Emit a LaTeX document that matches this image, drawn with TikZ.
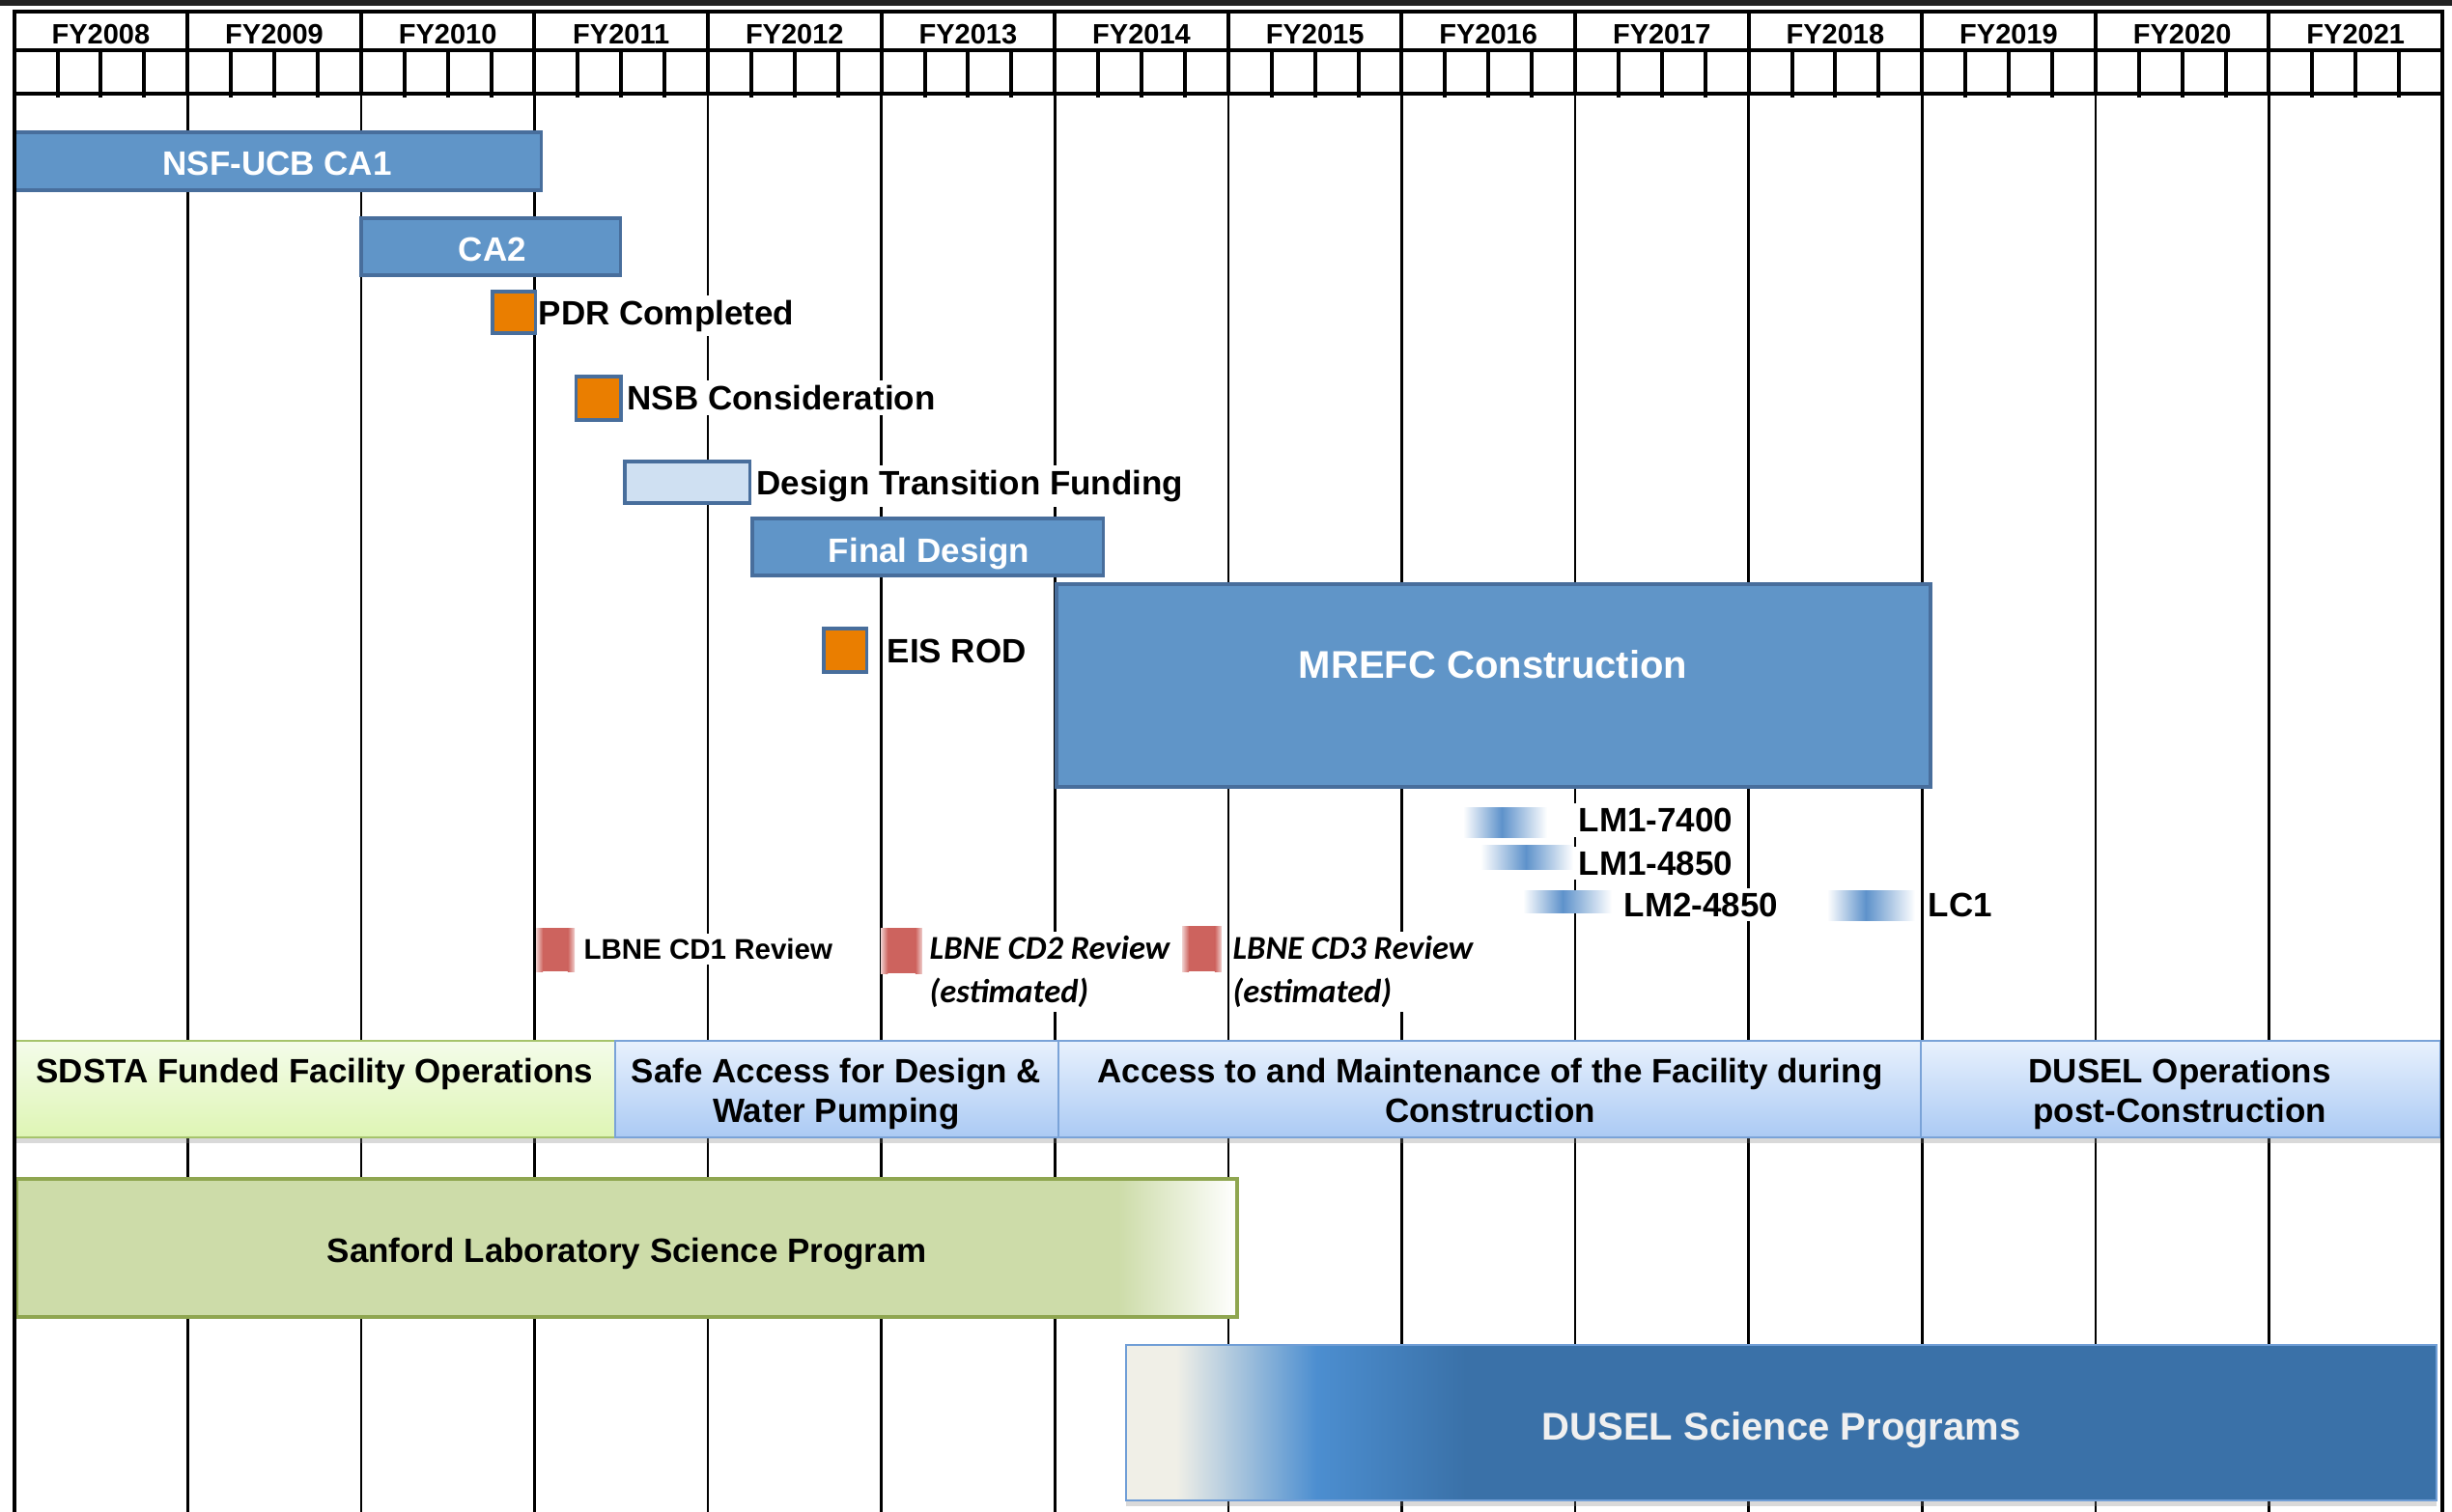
\documentclass[tikz,border=0pt]{standalone}
\usepackage{fontspec}
\setmainfont{Liberation Sans}
\newfontfamily\calibrifont{Carlito}
\usetikzlibrary{shadows}

\definecolor{topband}{RGB}{34,34,34}
\definecolor{barblue}{RGB}{96,149,200}
\definecolor{bardark}{RGB}{72,110,156}
\definecolor{mileorange}{RGB}{234,126,0}
\definecolor{dtfblue}{RGB}{207,224,242}
\definecolor{lbnered}{RGB}{205,99,94}
\definecolor{lmblue}{RGB}{94,146,203}
\definecolor{sdstatop}{RGB}{244,252,234}
\definecolor{sdstabot}{RGB}{222,245,180}
\definecolor{sdstaline}{RGB}{166,196,108}
\definecolor{lanetop}{RGB}{232,241,253}
\definecolor{lanebot}{RGB}{171,202,244}
\definecolor{laneline}{RGB}{122,163,216}
\definecolor{sanfordfill}{RGB}{205,220,169}
\definecolor{sanfordline}{RGB}{143,166,80}
\definecolor{scipale}{RGB}{240,239,231}
\definecolor{scimid}{RGB}{76,142,208}
\definecolor{scidark}{RGB}{58,113,168}
\definecolor{sciline}{RGB}{112,158,214}

\begin{document}
\begin{tikzpicture}[x=179.6pt, y=-1pt,
    thickline/.style={line width=4pt, line cap=rect},
    thinline/.style={line width=2.6pt},
    bar/.style={draw=bardark, fill=barblue, line width=3.5pt},
    milebox/.style={draw=bardark, fill=mileorange, line width=3.5pt},
    lab/.style={anchor=base west, fill=white, inner xsep=2pt, inner ysep=5pt,
        font=\fontsize{35}{41}\selectfont\bfseries},
    barlab/.style={anchor=base, text=white, font=\fontsize{35}{41}\selectfont\bfseries},
    biglab/.style={anchor=base, text=white, font=\fontsize{40}{48}\selectfont\bfseries},
    yearlab/.style={anchor=base, font=\fontsize{29}{35}\selectfont\bfseries},
    lbnelab/.style={anchor=base west, fill=white, inner xsep=1pt, inner ysep=4pt, align=left,
        font=\calibrifont\fontsize{34.5}{45}\selectfont\bfseries\itshape},
    lanelab/.style={anchor=north, align=center, inner sep=0pt,
        font=\fontsize{35}{41}\selectfont\bfseries},
    lane/.style={line width=2pt,
        drop shadow={shadow xshift=0pt, shadow yshift=-6pt, opacity=0.3}}]

    \useasboundingbox (-0.0813,0) rectangle (14.0557,1566);
    \fill[topband] (-0.0813,0) rectangle (14.0557,5.5);

    % year and quarter grid
    \foreach \k in {1,...,13} {
        \draw[thinline] (\k,97) -- (\k,1570);
        \draw[thickline] (\k,12) -- (\k,97);
    }
    \foreach \k in {0,...,13}
        \foreach \q in {0.25,0.5,0.75}
            \draw[thickline] (\k+\q,52) -- (\k+\q,99);
    \draw[thickline] (0,52) -- (14,52) (0,97) -- (14,97);
    \foreach \yr [count=\i from 0] in {2008,...,2021}
        \node[yearlab] (fy\yr) at (\i+0.5,45) {FY\yr};

    % labels beside the boxes
    \node[lab] (pdr) at (3.012,336) {PDR Completed};
    \node[lab] (nsb) at (3.524,424.5) {NSB Consideration};
    \node[lab] (dtf) at (4.27,512.5) {Design Transition Funding};
    \node[lab] (eis) at (5.022,686) {EIS ROD};
    \node[lab, inner xsep=8pt] (lm1a) at (8.975,861.5) {LM1-7400};
    \node[lab, inner xsep=8pt] (lm1b) at (8.975,906) {LM1-4850};
    \node[lab] (lm2) at (9.27,949) {LM2-4850};
    \node[lab] (lc1) at (11.024,949) {LC1};
    \node[lab, font=\fontsize{29.5}{35}\selectfont\bfseries] (cd1) at (3.273,993.5) {LBNE CD1 Review};
    \node[lbnelab] (cd2) at (5.272,1038.5) {LBNE CD2 Review\\(estimated)};
    \node[lbnelab] (cd3) at (7.02,1038.5) {LBNE CD3 Review\\(estimated)};

    % bars and milestones
    \draw[bar] (0,137) rectangle (3.04,197);
    \draw[bar] (2.0,226) rectangle (3.495,285);
    \draw[milebox] (2.757,302) rectangle (3.005,345);
    \draw[milebox] (3.241,390) rectangle (3.5,435);
    \draw[bar, fill=dtfblue] (3.52,478) rectangle (4.241,521);
    \draw[bar] (4.255,537) rectangle (6.279,596);
    \draw[bar] (6.009,605) rectangle (11.05,815);
    \draw[milebox] (4.667,651) rectangle (4.915,696);
    \node[barlab] (ca1) at (1.517,181) {NSF-UCB CA1};
    \node[barlab] (ca2) at (2.758,270) {CA2};
    \node[barlab] (final) at (5.275,582) {Final Design};
    \node[biglab] (mrefc) at (8.527,702) {MREFC Construction};

    % level milestones
    \foreach \a/\p/\b/\t/\u in {8.354/8.577/8.838/836/867, 8.455/8.716/8.989/875/900,
            8.699/8.928/9.212/922/945, 10.453/10.676/10.96/922/953} {
        \shade[left color=white, right color=lmblue] (\a,\t) rectangle (\p,\u);
        \shade[left color=lmblue, right color=white] (\p,\t) rectangle (\b,\u);
    }

    % LBNE reviews
    \foreach \a/\b/\t/\u in {3.009/3.232/961/1006, 4.997/5.236/961/1008, 6.734/6.962/959/1006} {
        \fill[lbnered] (\a+0.04,\t) rectangle (\b-0.04,\u);
        \shade[left color=lbnered!30!white, right color=lbnered] (\a,\t) rectangle (\a+0.04,\u);
        \shade[left color=lbnered, right color=lbnered!30!white] (\b-0.04,\t) rectangle (\b,\u);
    }

    % facility lanes
    \shadedraw[lane, draw=sdstaline, top color=sdstatop, bottom color=sdstabot]
        (0,1078) rectangle (3.465,1178);
    \shadedraw[lane, draw=laneline, top color=lanetop, bottom color=lanebot]
        (3.465,1078) rectangle (6.021,1178);
    \shadedraw[lane, draw=laneline, top color=lanetop, bottom color=lanebot]
        (6.021,1078) rectangle (10.994,1178);
    \shadedraw[lane, draw=laneline, top color=lanetop, bottom color=lanebot]
        (10.994,1078) rectangle (13.99,1178);
    \node[lanelab] (sdsta) at (1.733,1096) {SDSTA Funded Facility Operations};
    \node[lanelab] (safe) at (4.74,1096) {Safe Access for Design \&\\Water Pumping};
    \node[lanelab] (access) at (8.51,1096) {Access to and Maintenance of the Facility during\\Construction};
    \node[lanelab] (ops) at (12.486,1096) {DUSEL Operations\\post-Construction};

    % science programs
    \fill[sanfordfill] (0.013,1221) rectangle (6.367,1364);
    \shade[left color=sanfordfill, right color=white] (6.367,1221) rectangle (7.05,1364);
    \draw[sanfordline, line width=4pt] (0.013,1221) rectangle (7.05,1364);
    \node[barlab, text=black] (sanford) at (3.532,1307.5) {Sanford Laboratory Science Program};

    \fill[scidark, drop shadow={shadow xshift=0pt, shadow yshift=-6pt, opacity=0.3}]
        (6.411,1393) rectangle (13.967,1554);
    \fill[scipale] (6.411,1393) rectangle (6.70,1554);
    \shade[left color=scipale, right color=scimid] (6.70,1393) rectangle (7.51,1554);
    \shade[left color=scimid, right color=scidark] (7.51,1393) rectangle (8.37,1554);
    \draw[sciline, line width=2pt] (6.411,1393) rectangle (13.967,1554);
    \node[biglab, text=white!94!black] (science) at (10.19,1491) {DUSEL Science Programs};

    % outer frame
    \draw[thickline] (0,1570) -- (0,12) -- (14,12) -- (14,1570);
\end{tikzpicture}
\end{document}
